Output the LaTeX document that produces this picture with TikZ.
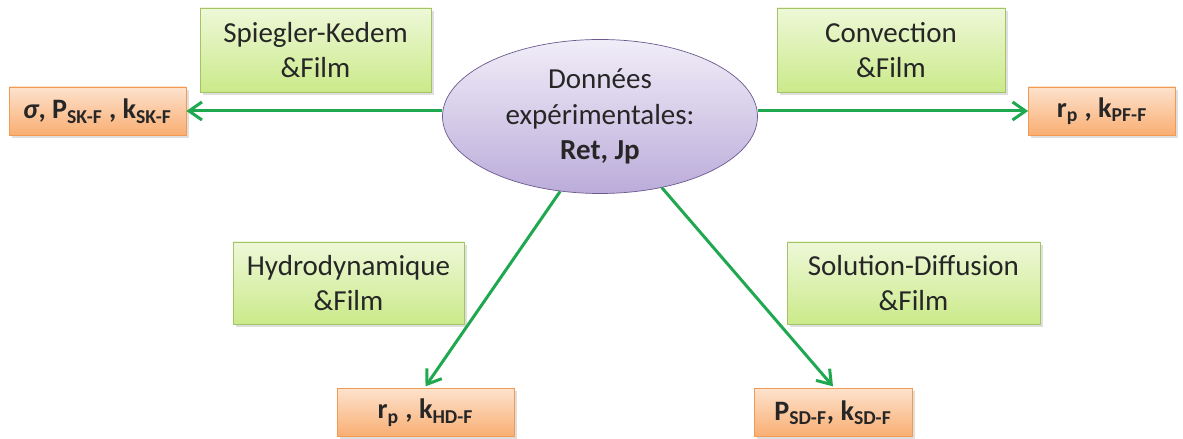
\documentclass[tikz,border=0pt]{standalone}
\usepackage{fontspec}
\setmainfont{Carlito}
\usetikzlibrary{shapes.geometric,arrows.meta,shadows}
\definecolor{modeltop}{HTML}{EEF8D8}
\definecolor{modelbot}{HTML}{CBEA8A}
\definecolor{modeldraw}{HTML}{A3C466}
\definecolor{restop}{HTML}{FDE2CD}
\definecolor{resbot}{HTML}{F9AE72}
\definecolor{resdraw}{HTML}{F39A52}
\definecolor{datatop}{HTML}{F1EDF8}
\definecolor{databot}{HTML}{BBACDA}
\definecolor{datadraw}{HTML}{6A5A8E}
\definecolor{arrowgreen}{HTML}{1FA84F}
\begin{document}
\begin{tikzpicture}[scale=1,
  model node/.style={rectangle,draw=modeldraw,top color=modeltop,bottom color=modelbot,
    align=center,font=\fontsize{16.5}{20}\selectfont,text=black!85,
    drop shadow={shadow xshift=1.5pt,shadow yshift=-1.5pt,opacity=0.25}},
  result node/.style={rectangle,draw=resdraw,top color=restop,bottom color=resbot,
    align=center,font=\fontsize{16}{19}\selectfont\bfseries,text=black!85,
    minimum height=0.96cm,inner sep=1pt,
    drop shadow={shadow xshift=1.5pt,shadow yshift=-1.5pt,opacity=0.25}},
  data node/.style={ellipse,draw=datadraw,top color=datatop,bottom color=databot,
    align=center,font=\fontsize{16.5}{20}\selectfont,text=black!85,
    minimum width=6.3cm,minimum height=3.08cm,inner sep=0pt}]

  \useasboundingbox (0,0) rectangle (23.66,8.78);

  \node[data node] (data) at (12.0,6.45) {Données\\expérimentales:\\\textbf{Ret, Jp}};

  \node[model node,minimum width=4.62cm,minimum height=1.68cm] (sk) at (6.31,7.78) {Spiegler-Kedem\\\&Film};
  \node[model node,minimum width=4.56cm,minimum height=1.68cm] (pf) at (17.82,7.78) {Convection\\\&Film};
  \node[model node,minimum width=4.62cm,minimum height=1.64cm] (hd) at (6.97,3.12) {Hydrodynamique\\\&Film};
  \node[model node,minimum width=5.06cm,minimum height=1.64cm] (sd) at (18.27,3.12) {Solution-Diffusion\\\&Film};

  \node[result node,minimum width=3.54cm] (sk res) at (1.95,6.56)
    {\textit{σ}, P\textsubscript{SK-F} , k\textsubscript{SK-F}};
  \node[result node,minimum width=2.94cm] (pf res) at (22.04,6.56)
    {r\textsubscript{p} , k\textsubscript{PF-F}};
  \node[result node,minimum width=3.54cm] (hd res) at (8.51,0.53)
    {r\textsubscript{p} , k\textsubscript{HD-F}};
  \node[result node,minimum width=3.16cm] (sd res) at (16.66,0.53)
    {P\textsubscript{SD-F}, k\textsubscript{SD-F}};

  \path[every edge/.style={draw=arrowgreen,line width=1.7pt,
      -{Straight Barb[length=2.6mm,width=3.6mm]}}]
   (data.west |- sk res.east) edge (sk res.east)
   (data.east |- pf res.west) edge (pf res.west)
   (data.242) edge ([yshift=1pt]hd res.north)
   (data.311) edge ([yshift=1pt]sd res.north);
\end{tikzpicture}
\end{document}
